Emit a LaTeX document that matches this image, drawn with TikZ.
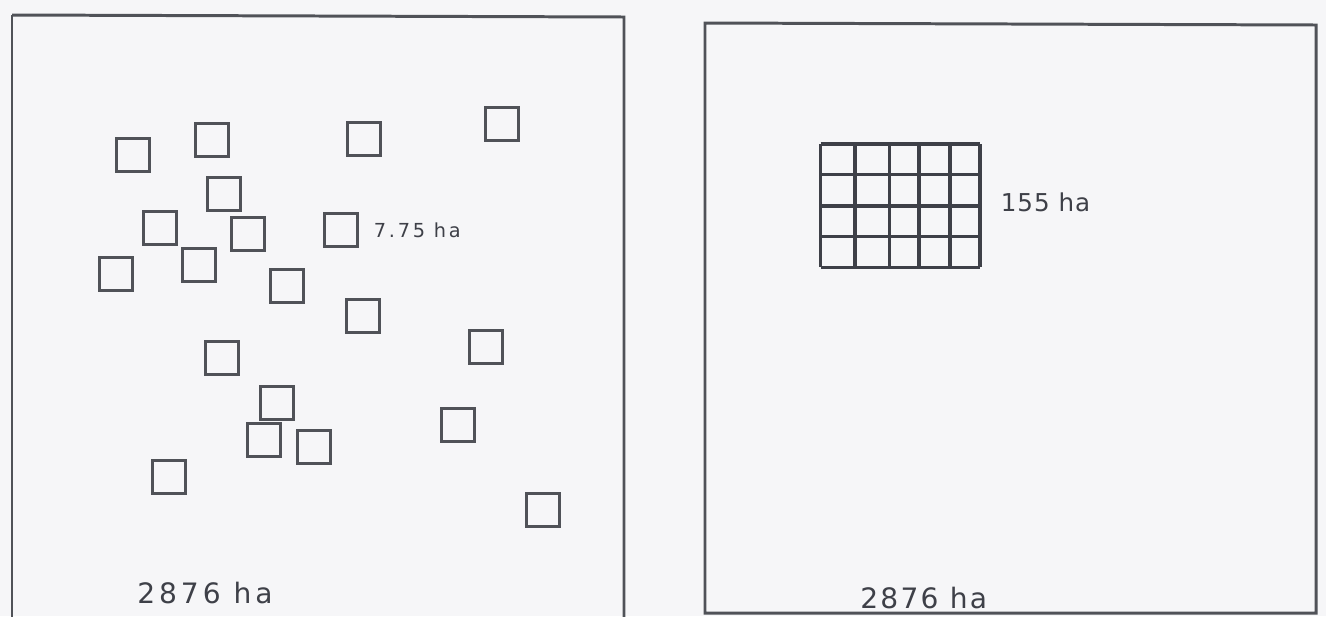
\documentclass[tikz,border=0pt]{standalone}
\usepackage{fontspec}
\usepackage{tikz}
\usetikzlibrary{positioning}
\newfontfamily\handfont{DejaVu Sans}
\definecolor{paper}{RGB}{246,246,248}
\definecolor{ink}{RGB}{80,82,88}
\definecolor{pen}{RGB}{62,64,72}
\tikzset{
  frame/.style={draw=ink, line width=1.7pt},
  plot/.style={rectangle, draw=ink, line width=1.3pt, minimum size=0.66cm, inner sep=0pt},
  blockgrid/.style={draw=pen, line width=1.9pt},
  area/.style={font=\handfont\fontsize{16}{16}\selectfont\addfontfeatures{LetterSpace=14}, text=pen, inner sep=0pt},
  smallarea/.style={font=\handfont\fontsize{11}{11}\selectfont\addfontfeatures{LetterSpace=14}, text=pen, inner sep=0pt},
  midarea/.style={font=\handfont\fontsize{14}{14}\selectfont\addfontfeatures{LetterSpace=4}, text=pen, inner sep=0pt},
}

\begin{document}
\begin{tikzpicture}[x=0.02cm, y=-0.02cm]
  \useasboundingbox (0,0) rectangle (1326,616);
  \fill[paper] (0,0) rectangle (1326,616);
  \clip (0,0) rectangle (1326,616);

  % scattered plots
  \draw[frame] (12,15) -- (624,17) -- (624,640);
  \draw[frame] (12,15) -- (12,640);
  \foreach \n/\x/\y in {1/133/155, 2/212/140, 3/364/139, 4/502/124, 5/224/194,
      6/160/228, 7/248/234, 8/341/230, 9/116/274, 10/199/265, 11/287/286,
      12/363/316, 13/486/347, 14/222/358, 15/277/403, 16/264/440, 17/314/447,
      18/458/425, 19/169/477, 20/543/510}
    \node[plot] (p\n) at (\x,\y) {};
  \node[smallarea, right=0.3cm of p8] (small) {7.75 ha};
  \node[area, anchor=west] (leftarea) at (137,593) {2876 ha};

  % one block
  \draw[frame] (705,23) -- (1316,25) -- (1316,613) -- (705,613) -- cycle;
  \node[rectangle, minimum width=3.19cm, minimum height=2.47cm, inner sep=0pt]
    (block) at (900.4,205.7) {};
  \foreach \x in {820.7,855,889.3,919,950,980}
    \draw[blockgrid] (\x,144) -- (\x,267.3);
  \foreach \y in {144,174.3,206,236.7,267.3}
    \draw[blockgrid] (820.7,\y) -- (980,\y);
  \node[midarea, right=0.4cm of block, yshift=0.06cm] (big) {155 ha};
  \node[area, anchor=west, font=\handfont\fontsize{16}{16}\selectfont\addfontfeatures{LetterSpace=8}]
    (rightarea) at (860,598) {2876 ha};
\end{tikzpicture}
\end{document}
